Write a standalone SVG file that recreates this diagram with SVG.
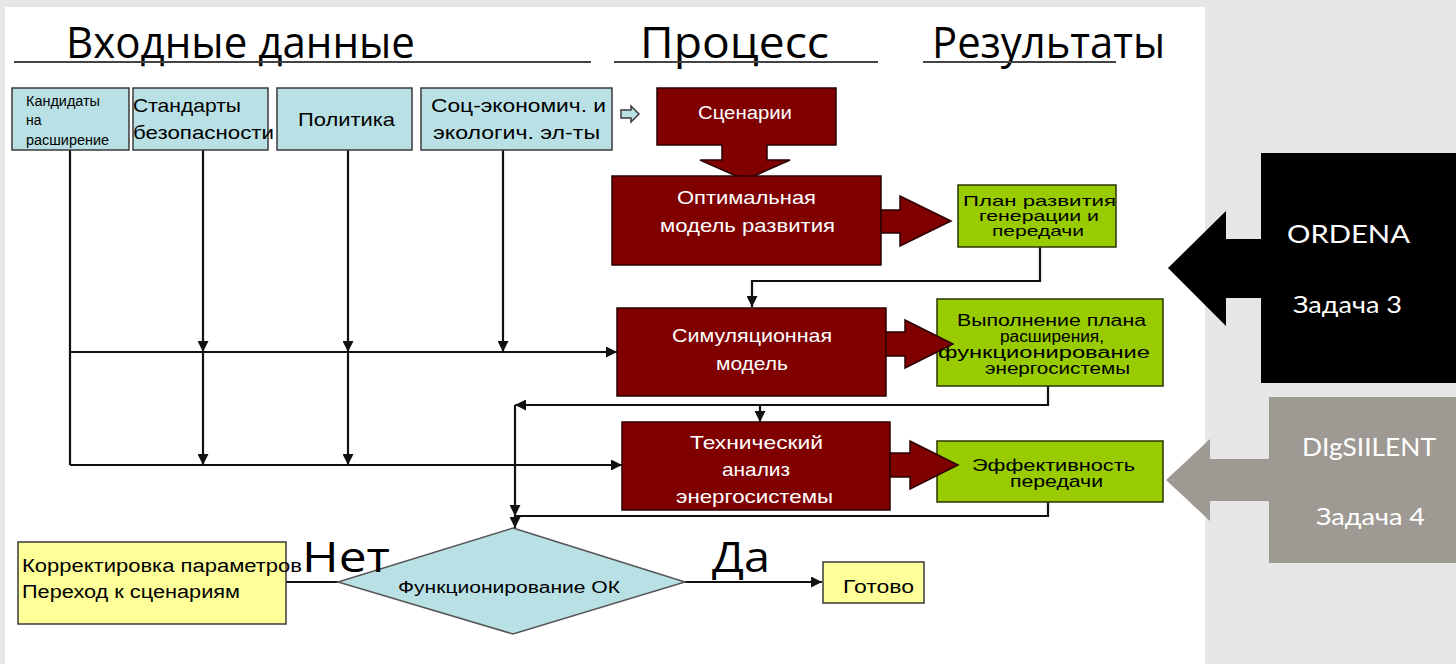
<svg xmlns="http://www.w3.org/2000/svg" width="1456" height="664" viewBox="0 0 1456 664">
<defs>
<style>
.bg{fill:#e6e6e6}
.panel{fill:#ffffff}
.blue{fill:#b9e0e5;stroke:#3a3a3a;stroke-width:1.5}
.red{fill:#800000;stroke:#2a0000;stroke-width:1.5}
.green{fill:#99cc00;stroke:#2a3300;stroke-width:1.5}
.yellow{fill:#ffff99;stroke:#3a3a3a;stroke-width:1.5}
.t{font-family:"Liberation Sans",Arial,sans-serif;fill:#000}
.w{font-family:"Liberation Sans",Arial,sans-serif;fill:#ffffff}
.title{font-family:"Open Sans","Noto Sans",sans-serif;font-size:44px;fill:#000}
.big{font-family:"Open Sans","Noto Sans",sans-serif;font-size:42px;fill:#000}
.side{font-family:Lato,"Open Sans",sans-serif;fill:#ffffff}
.line{fill:none;stroke:#111;stroke-width:2.2}
.ul{stroke:#444;stroke-width:2}
</style>
<marker id="ah" viewBox="0 0 10 10" refX="10" refY="5" markerWidth="5" markerHeight="5" orient="auto" markerUnits="strokeWidth">
<path d="M0,0 L10,5 L0,10 z" fill="#111"/>
</marker>
</defs>
<rect class="bg" x="0" y="0" width="1456" height="664"/>
<rect class="panel" x="5" y="7" width="1200" height="657"/>

<g id="titles">
<text class="title" x="66" y="58" textLength="349" lengthAdjust="spacingAndGlyphs">Входные данные</text>
<line class="ul" x1="14" y1="62" x2="591" y2="62"/>
<text class="title" x="640" y="58" textLength="189" lengthAdjust="spacingAndGlyphs">Процесс</text>
<line class="ul" x1="614" y1="62" x2="878" y2="62"/>
<text class="title" x="932" y="58" textLength="233" lengthAdjust="spacingAndGlyphs">Результаты</text>
<line class="ul" x1="923" y1="62" x2="1116" y2="62"/>
</g>

<g id="connectors">
<polyline class="line" points="70,150 70,465"/>
<line class="line" x1="70" y1="352" x2="617" y2="352" marker-end="url(#ah)"/>
<line class="line" x1="70" y1="465" x2="622" y2="465" marker-end="url(#ah)"/>
<line class="line" x1="203" y1="150" x2="203" y2="352" marker-end="url(#ah)"/>
<line class="line" x1="203" y1="352" x2="203" y2="465" marker-end="url(#ah)"/>
<line class="line" x1="348" y1="150" x2="348" y2="352" marker-end="url(#ah)"/>
<line class="line" x1="348" y1="352" x2="348" y2="465" marker-end="url(#ah)"/>
<line class="line" x1="503" y1="150" x2="503" y2="352" marker-end="url(#ah)"/>
<polyline class="line" points="1040,247 1040,281 752,281 752,307" marker-end="url(#ah)"/>
<polyline class="line" points="1048,386 1048,405 515,405" marker-end="url(#ah)"/>
<line class="line" x1="760" y1="405" x2="760" y2="422" marker-end="url(#ah)"/>
<line class="line" x1="515" y1="405" x2="515" y2="516" marker-end="url(#ah)"/>
<polyline class="line" points="1048,502 1048,516 515,516 515,528" marker-end="url(#ah)"/>
<line class="line" x1="286" y1="582" x2="338" y2="582"/>
<line class="line" x1="685" y1="582" x2="822" y2="582" marker-end="url(#ah)"/>
</g>

<g id="n-kandidaty">
<rect class="blue" x="12" y="88" width="117" height="62"/>
<text class="t" font-size="14" x="26" y="106" textLength="74" lengthAdjust="spacingAndGlyphs">Кандидаты</text>
<text class="t" font-size="14" x="26" y="125">на</text>
<text class="t" font-size="14" x="26" y="145" textLength="83" lengthAdjust="spacingAndGlyphs">расширение</text>
</g>
<g id="n-standarty">
<rect class="blue" x="133" y="88" width="135" height="62"/>
<text class="t" font-size="19" x="133" y="112" textLength="108" lengthAdjust="spacingAndGlyphs">Стандарты</text>
<text class="t" font-size="19" x="133" y="139" textLength="141" lengthAdjust="spacingAndGlyphs">безопасности</text>
</g>
<g id="n-politika">
<rect class="blue" x="277" y="88" width="135" height="62"/>
<text class="t" font-size="19" x="298" y="126" textLength="97" lengthAdjust="spacingAndGlyphs">Политика</text>
</g>
<g id="n-soc">
<rect class="blue" x="421" y="88" width="191" height="62"/>
<text class="t" font-size="19" x="431" y="112" textLength="175" lengthAdjust="spacingAndGlyphs">Соц-экономич. и</text>
<text class="t" font-size="19" x="433" y="139" textLength="167" lengthAdjust="spacingAndGlyphs">экологич. эл-ты</text>
</g>
<g id="n-smallarrow">
<path d="M621,110 L631,110 L631,106 L639,114 L631,122 L631,118 L621,118 Z" fill="#b9e0e5" stroke="#3a3a3a" stroke-width="1.5"/>
</g>

<g id="n-scenarii">
<path class="red" d="M657,88 L836,88 L836,145 L767,145 L767,160 L790,160 L745,180 L700,160 L722,160 L722,145 L657,145 Z"/>
<text class="w" font-size="18" x="698" y="119" textLength="94" lengthAdjust="spacingAndGlyphs">Сценарии</text>
</g>
<g id="n-optimal">
<rect class="red" x="612" y="176" width="269" height="89"/>
<text class="w" font-size="19" x="677" y="204" textLength="139" lengthAdjust="spacingAndGlyphs">Оптимальная</text>
<text class="w" font-size="19" x="660" y="232" textLength="175" lengthAdjust="spacingAndGlyphs">модель развития</text>
</g>
<g id="n-plan">
<rect class="green" x="958" y="185" width="158" height="62"/>
<text class="t" font-size="15" x="963" y="206" textLength="153" lengthAdjust="spacingAndGlyphs">План развития</text>
<text class="t" font-size="15" x="979" y="221" textLength="120" lengthAdjust="spacingAndGlyphs">генерации и</text>
<text class="t" font-size="15" x="992" y="236" textLength="92" lengthAdjust="spacingAndGlyphs">передачи</text>
</g>
<g id="a-opt-plan">
<path class="red" d="M881,210 L900,210 L900,196 L951,221 L900,246 L900,233 L881,233 Z"/>
</g>

<g id="n-simul">
<rect class="red" x="617" y="308" width="269" height="88"/>
<text class="w" font-size="19" x="672" y="342" textLength="160" lengthAdjust="spacingAndGlyphs">Симуляционная</text>
<text class="w" font-size="19" x="716" y="370" textLength="72" lengthAdjust="spacingAndGlyphs">модель</text>
</g>
<g id="n-vypoln">
<rect class="green" x="937" y="299" width="226" height="87"/>
<text class="t" font-size="16" x="957" y="326" textLength="189" lengthAdjust="spacingAndGlyphs">Выполнение плана</text>
<text class="t" font-size="16" x="1000" y="342" textLength="104" lengthAdjust="spacingAndGlyphs">расширения,</text>
<text class="t" font-size="16" x="938" y="358" textLength="212" lengthAdjust="spacingAndGlyphs">функционирование</text>
<text class="t" font-size="16" x="985" y="374" textLength="145" lengthAdjust="spacingAndGlyphs">энергосистемы</text>
</g>
<g id="a-sim-vyp">
<path class="red" d="M886,332 L905,332 L905,320 L953,344 L905,368 L905,356 L886,356 Z"/>
</g>

<g id="n-tech">
<rect class="red" x="622" y="422" width="268" height="88"/>
<text class="w" font-size="19" x="690" y="449" textLength="133" lengthAdjust="spacingAndGlyphs">Технический</text>
<text class="w" font-size="19" x="722" y="476" textLength="68" lengthAdjust="spacingAndGlyphs">анализ</text>
<text class="w" font-size="19" x="676" y="503" textLength="157" lengthAdjust="spacingAndGlyphs">энергосистемы</text>
</g>
<g id="n-effekt">
<rect class="green" x="937" y="441" width="226" height="61"/>
<text class="t" font-size="16" x="972" y="471" textLength="163" lengthAdjust="spacingAndGlyphs">Эффективность</text>
<text class="t" font-size="16" x="1010" y="487" textLength="93" lengthAdjust="spacingAndGlyphs">передачи</text>
</g>
<g id="a-tech-eff">
<path class="red" d="M890,453 L910,453 L910,441 L958,465 L910,489 L910,477 L890,477 Z"/>
</g>

<g id="n-diamond">
<path d="M513,528 L685,582 L513,634 L338,582 Z" fill="#b9e0e5" stroke="#555" stroke-width="1.5"/>
<text class="t" font-size="16" x="398" y="593" textLength="222" lengthAdjust="spacingAndGlyphs">Функционирование ОК</text>
</g>
<g id="n-korr">
<rect class="yellow" x="18" y="542" width="268" height="82"/>
<text class="t" font-size="18" x="22" y="572" textLength="280" lengthAdjust="spacingAndGlyphs">Корректировка параметров</text>
<text class="t" font-size="18" x="22" y="598" textLength="218" lengthAdjust="spacingAndGlyphs">Переход к сценариям</text>
</g>
<g id="n-gotovo">
<rect class="yellow" x="823" y="562" width="101" height="41"/>
<text class="t" font-size="18" x="843" y="593" textLength="71" lengthAdjust="spacingAndGlyphs">Готово</text>
</g>
<g id="labels">
<text class="big" x="302" y="572" textLength="88" lengthAdjust="spacingAndGlyphs">Нет</text>
<text class="big" x="712" y="572" textLength="58" lengthAdjust="spacingAndGlyphs">Да</text>
</g>

<g id="n-ordena">
<path d="M1261,153 L1456,153 L1456,383 L1261,383 L1261,298 L1226,298 L1226,326 L1168,268 L1226,211 L1226,239 L1261,239 Z" fill="#000"/>
<text class="side" font-size="25" x="1287" y="243" textLength="123" lengthAdjust="spacingAndGlyphs">ORDENA</text>
<text class="side" font-size="24" x="1293" y="313" textLength="109" lengthAdjust="spacingAndGlyphs">Задача 3</text>
</g>
<g id="n-digsilent">
<path d="M1269,397 L1456,397 L1456,563 L1269,563 L1269,501 L1210,501 L1210,521 L1166,480 L1210,439 L1210,459 L1269,459 Z" fill="#9e9a93"/>
<text class="side" font-size="25" x="1302" y="456" textLength="134" lengthAdjust="spacingAndGlyphs">DIgSIILENT</text>
<text class="side" font-size="24" x="1316" y="525" textLength="109" lengthAdjust="spacingAndGlyphs">Задача 4</text>
</g>
</svg>
